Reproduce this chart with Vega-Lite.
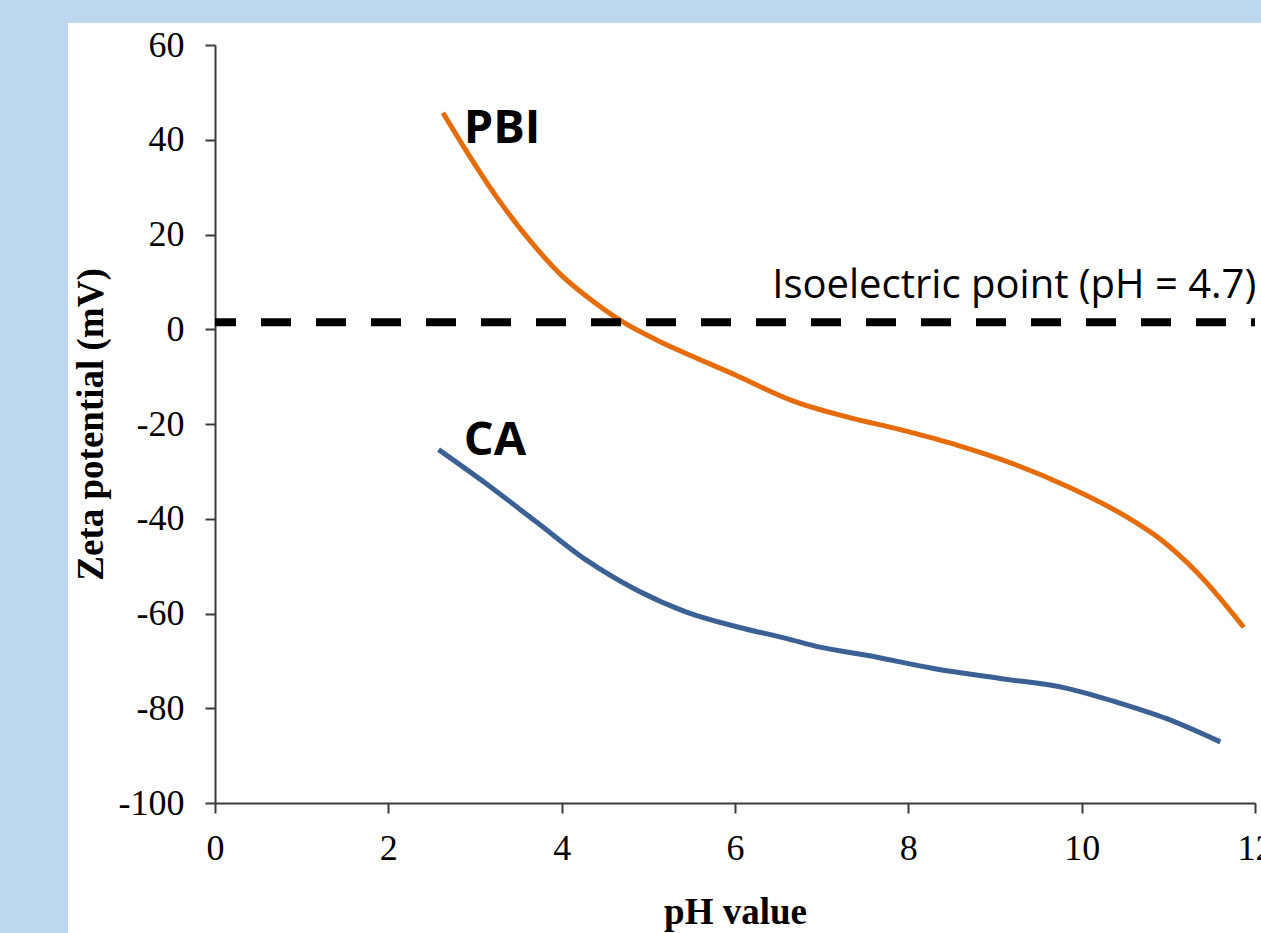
{
  "$schema": "https://vega.github.io/schema/vega-lite/v6.json",
  "width": 1193,
  "height": 910,
  "autosize": {"type": "none"},
  "padding": {"left": 68, "top": 23, "right": 0, "bottom": 0},
  "background": "#BDD7EE",
  "datasets": {
    "curves": [
      {"series": "PBI", "pH": 2.63, "zeta": 45.7},
      {"series": "PBI", "pH": 2.87, "zeta": 38.5},
      {"series": "PBI", "pH": 3.25, "zeta": 27.9},
      {"series": "PBI", "pH": 3.63, "zeta": 18.8},
      {"series": "PBI", "pH": 4.02, "zeta": 11.0},
      {"series": "PBI", "pH": 4.40, "zeta": 5.4},
      {"series": "PBI", "pH": 4.71, "zeta": 1.5},
      {"series": "PBI", "pH": 5.10, "zeta": -2.3},
      {"series": "PBI", "pH": 5.37, "zeta": -4.6},
      {"series": "PBI", "pH": 6.01, "zeta": -9.7},
      {"series": "PBI", "pH": 6.65, "zeta": -15.0},
      {"series": "PBI", "pH": 7.29, "zeta": -18.5},
      {"series": "PBI", "pH": 7.93, "zeta": -21.3},
      {"series": "PBI", "pH": 8.57, "zeta": -24.5},
      {"series": "PBI", "pH": 9.21, "zeta": -28.4},
      {"series": "PBI", "pH": 9.85, "zeta": -33.3},
      {"series": "PBI", "pH": 10.49, "zeta": -39.3},
      {"series": "PBI", "pH": 10.92, "zeta": -44.5},
      {"series": "PBI", "pH": 11.34, "zeta": -51.5},
      {"series": "PBI", "pH": 11.87, "zeta": -62.9},
      {"series": "CA", "pH": 2.58, "zeta": -25.4},
      {"series": "CA", "pH": 3.13, "zeta": -32.6},
      {"series": "CA", "pH": 3.71, "zeta": -40.7},
      {"series": "CA", "pH": 4.29, "zeta": -48.8},
      {"series": "CA", "pH": 4.87, "zeta": -55.1},
      {"series": "CA", "pH": 5.44, "zeta": -59.7},
      {"series": "CA", "pH": 6.02, "zeta": -62.8},
      {"series": "CA", "pH": 6.60, "zeta": -65.3},
      {"series": "CA", "pH": 6.98, "zeta": -67.1},
      {"series": "CA", "pH": 7.52, "zeta": -68.8},
      {"series": "CA", "pH": 8.29, "zeta": -71.6},
      {"series": "CA", "pH": 9.06, "zeta": -73.7},
      {"series": "CA", "pH": 9.83, "zeta": -75.8},
      {"series": "CA", "pH": 10.40, "zeta": -78.7},
      {"series": "CA", "pH": 10.98, "zeta": -82.2},
      {"series": "CA", "pH": 11.60, "zeta": -87.1}
    ],
    "iso": [{"pH": 0, "pH2": 12, "zeta": 1.5}],
    "labels": [
      {"label": "PBI", "pH": 2.87, "zeta": 39.3},
      {"label": "CA", "pH": 2.87, "zeta": -26.6}
    ],
    "isolabel": [{"label": "Isoelectric point (pH = 4.7)", "pH": 6.43, "zeta": 6.5}]
  },
  "layer": [
    {
      "data": {"name": "curves"},
      "mark": {"type": "line", "interpolate": "monotone", "strokeWidth": 5, "strokeCap": "butt"},
      "encoding": {
        "x": {"field": "pH", "type": "quantitative", "title": "pH value",
              "scale": {"domain": [0, 12], "range": [147, 1187], "nice": false, "zero": false},
              "axis": {"values": [0, 2, 4, 6, 8, 10, 12], "offset": -130, "labelPadding": 18, "titlePadding": 28}},
        "y": {"field": "zeta", "type": "quantitative", "title": "Zeta potential (mV)",
              "scale": {"domain": [-100, 60], "range": [780, 22], "nice": false, "zero": false},
              "axis": {"values": [-100, -80, -60, -40, -20, 0, 20, 40, 60], "offset": -147, "labelPadding": 21, "titlePadding": 8}},
        "color": {"field": "series", "type": "nominal",
                  "scale": {"domain": ["PBI", "CA"], "range": ["#E46C0A", "#3B6194"]}, "legend": null},
        "detail": {"field": "series"}
      }
    },
    {
      "data": {"name": "iso"},
      "mark": {"type": "rule", "color": "black", "strokeWidth": 8, "strokeDash": [30, 25], "strokeDashOffset": 9},
      "encoding": {
        "x": {"field": "pH", "type": "quantitative", "title": "pH value",
              "scale": {"domain": [0, 12], "range": [147, 1187], "nice": false, "zero": false}},
        "x2": {"field": "pH2"},
        "y": {"field": "zeta", "type": "quantitative", "title": "Zeta potential (mV)",
              "scale": {"domain": [-100, 60], "range": [780, 22], "nice": false, "zero": false}}
      }
    },
    {
      "data": {"name": "labels"},
      "mark": {"type": "text", "font": "Open Sans", "fontWeight": "bold", "fontSize": 47, "align": "left", "baseline": "alphabetic", "color": "black"},
      "encoding": {
        "x": {"field": "pH", "type": "quantitative", "title": "pH value",
              "scale": {"domain": [0, 12], "range": [147, 1187], "nice": false, "zero": false}},
        "y": {"field": "zeta", "type": "quantitative", "title": "Zeta potential (mV)",
              "scale": {"domain": [-100, 60], "range": [780, 22], "nice": false, "zero": false}},
        "text": {"field": "label"}
      }
    },
    {
      "data": {"name": "isolabel"},
      "mark": {"type": "text", "font": "Open Sans", "fontSize": 40, "align": "left", "baseline": "alphabetic", "color": "black"},
      "encoding": {
        "x": {"field": "pH", "type": "quantitative", "title": "pH value",
              "scale": {"domain": [0, 12], "range": [147, 1187], "nice": false, "zero": false}},
        "y": {"field": "zeta", "type": "quantitative", "title": "Zeta potential (mV)",
              "scale": {"domain": [-100, 60], "range": [780, 22], "nice": false, "zero": false}},
        "text": {"field": "label"}
      }
    }
  ],
  "config": {
    "view": {"fill": "white", "stroke": null},
    "axis": {
      "grid": false,
      "labelFlush": false,
      "domainColor": "#3a3a3a",
      "domainWidth": 2,
      "tickColor": "#3a3a3a",
      "tickWidth": 2,
      "tickSize": 10,
      "labelFont": "Liberation Serif",
      "labelFontSize": 36,
      "labelColor": "black",
      "labelExpr": "'' + datum.value",
      "titleFont": "Liberation Serif",
      "titleFontSize": 37,
      "titleFontWeight": "bold",
      "titleColor": "black"
    }
  }
}
